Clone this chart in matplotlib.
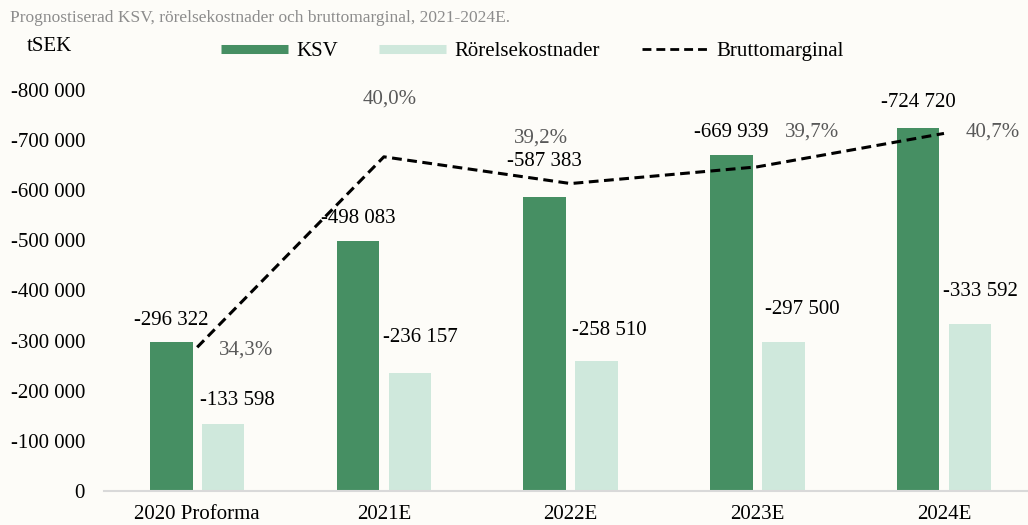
import numpy as np
import matplotlib
matplotlib.use('Agg')
import matplotlib.pyplot as plt
from matplotlib.lines import Line2D
from matplotlib.ticker import FuncFormatter

plt.rcParams['font.family'] = ['Liberation Serif', 'DejaVu Serif']

categories = ['2020 Proforma', '2021E', '2022E', '2023E', '2024E']
ksv = [296322, 498083, 587383, 669939, 724720]
opex = [133598, 236157, 258510, 297500, 333592]
margin = [34.3, 40.0, 39.2, 39.7, 40.7]
y_ticks = [0, 100000, 200000, 300000, 400000, 500000, 600000, 700000, 800000]

# label offsets in pixels (dx, dy) from the bar top / line point
ksv_off = [(0, 22), (0, 23), (0, 35), (0, 23), (0, 25)]
opex_off = [(14, 24), (11, 35), (13, 31), (19, 32), (11, 32)]
margin_off = [(49, -3), (6, 58), (-30, 46), (55, 35), (49, 1)]

bg = '#FDFCF8'
dark = '#468F63'
light = '#CFE8DC'

fig = plt.figure(figsize=(10.28, 5.25), dpi=100, facecolor=bg)
ax = fig.add_axes([0.101, 0.0648, 0.899, 0.7638])
ax.set_facecolor(bg)

x = np.arange(len(categories))
w = 0.228
off = 0.139
ax.bar(x - off, ksv, width=w, color=dark, zorder=2)
ax.bar(x + off, opex, width=w, color=light, zorder=2)

ax.set_xlim(-0.5, 4.45)
ax.set_ylim(0, 800000)
ax.set_yticks(y_ticks)
ax.yaxis.set_major_formatter(FuncFormatter(
    lambda v, p: '0' if v == 0 else '-' + f'{int(v):,}'.replace(',', ' ')))
ax.set_xticks(x)
ax.set_xticklabels(categories)
ax.tick_params(axis='both', length=0, labelsize=15, colors='black')
ax.tick_params(axis='x', pad=10)
ax.tick_params(axis='y', pad=13.5)
for s in ['top', 'right', 'left']:
    ax.spines[s].set_visible(False)
ax.spines['bottom'].set_color('#D9D9D9')
ax.spines['bottom'].set_linewidth(1.5)

for i in range(len(categories)):
    ax.annotate(f'-{ksv[i]:,}'.replace(',', ' '), (x[i] - off, ksv[i]),
                xytext=ksv_off[i], textcoords='offset pixels',
                ha='center', va='center', fontsize=15, color='black')
    ax.annotate(f'-{opex[i]:,}'.replace(',', ' '), (x[i] + off, opex[i]),
                xytext=opex_off[i], textcoords='offset pixels',
                ha='center', va='center', fontsize=15, color='black')

ax2 = ax.twinx()
ax2.set_ylim(30, 42)
ax2.plot(x, margin, color='black', linestyle='--', linewidth=2.2, dashes=(3.2, 1.8), zorder=3)
ax2.axis('off')
for i in range(len(categories)):
    ax2.annotate(f'{margin[i]:.1f}%'.replace('.', ','), (x[i], margin[i]),
                 xytext=margin_off[i], textcoords='offset pixels',
                 ha='center', va='center', fontsize=15, color='#595959')

fig.text(0.0097, 0.965, 'Prognostiserad KSV, rörelsekostnader och bruttomarginal, 2021-2024E.',
         fontsize=12.5, color='#8C8C8C', ha='left', va='center')
fig.text(0.026, 0.912, 'tSEK', fontsize=15, color='black', ha='left', va='center')

handles = [Line2D([0], [0], color=dark, lw=6.5, solid_capstyle='butt'),
           Line2D([0], [0], color=light, lw=6.5, solid_capstyle='butt'),
           Line2D([0], [0], color='black', lw=2, linestyle='--', dashes=(3.2, 1.8))]
fig.legend(handles, ['KSV', 'Rörelsekostnader', 'Bruttomarginal'], loc='center',
           bbox_to_anchor=(0.518, 0.902), ncol=3, frameon=False, fontsize=15,
           handlelength=3.2, handletextpad=0.4, columnspacing=2.0)

fig.savefig('out.png', dpi=100, facecolor=bg)
